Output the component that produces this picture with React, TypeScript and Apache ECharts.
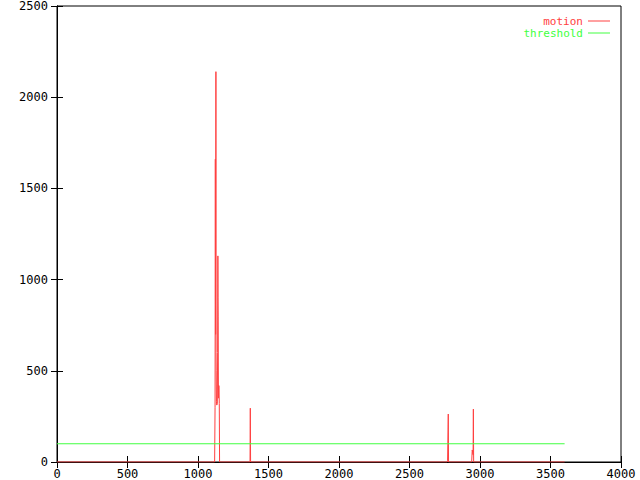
import React, { useEffect, useRef } from "react";
import * as echarts from "echarts";

// sampled motion values (seconds, level); samples not listed are zero
const motionSeconds = [
  0, 1118, 1120, 1121, 1123, 1124, 1125, 1127, 1128, 1129, 1131, 1133, 1135, 1137, 1139,
  1141, 1142, 1143, 1145, 1147, 1149, 1151, 1153, 1154,
  1369, 1371, 1373,
  2766, 2768, 2770, 2773, 2775, 2777,
  2941, 2943, 2945, 2947, 2951, 2953, 2955,
  3600,
];
const motionValues = [
  0, 0, 0, 300, 1660, 900, 700, 2140, 600, 500, 330, 312, 310, 320, 600,
  1130, 900, 800, 350, 420, 416, 320, 0, 0,
  0, 295, 0,
  0, 0, 6, 6, 263, 0,
  0, 0, 66, 66, 40, 290, 0,
  0,
];
const thresholdSeconds = [0, 3600];
const thresholdValues = [100, 100];
const xTicks = { min: 0, max: 4000, interval: 500 };
const yTicks = { min: 0, max: 2500, interval: 500 };

const RED = "#ff4040";
const GREEN = "#40ff40";
const FONT = "DejaVu Sans Mono";

export default function App() {
  const ref = useRef<HTMLDivElement>(null);
  useEffect(() => {
    if (!ref.current) return;
    const chart = echarts.init(ref.current, null, { renderer: "svg" });
    const axisCommon = {
      axisLine: { show: true, lineStyle: { color: "#000", width: 1 } },
      axisTick: { show: true, inside: true, length: 6, lineStyle: { color: "#000" } },
      splitLine: { show: false },
    };
    const fmt = (v: number) => String(v);
    chart.setOption({
      animation: false,
      backgroundColor: "#fff",
      grid: { left: 57, right: 19, top: 5, bottom: 18, show: true, borderColor: "#000", borderWidth: 1 },
      xAxis: [
        {
          type: "value",
          ...xTicks,
          ...axisCommon,
          axisLabel: { margin: 6, color: "#000", fontFamily: FONT, fontSize: 12, formatter: fmt },
        },
        {
          type: "value",
          position: "top",
          ...xTicks,
          ...axisCommon,
          axisLabel: { show: false },
        },
      ],
      yAxis: [
        {
          type: "value",
          ...yTicks,
          ...axisCommon,
          axisLabel: { margin: 9, color: "#000", fontFamily: FONT, fontSize: 12, formatter: fmt },
        },
        {
          type: "value",
          position: "right",
          ...yTicks,
          ...axisCommon,
          axisLabel: { show: false },
        },
      ],
      legend: {
        orient: "vertical",
        right: 30,
        top: 15,
        padding: 0,
        align: "right",
        icon: "rect",
        itemWidth: 22,
        itemHeight: 1,
        itemGap: 0,
        textStyle: { fontFamily: FONT, fontSize: 11, lineHeight: 12 },
        data: [
          { name: "motion", textStyle: { color: RED } },
          { name: "threshold", textStyle: { color: GREEN } },
        ],
      },
      series: [
        {
          name: "motion",
          type: "line",
          symbol: "none",
          color: RED,
          lineStyle: { color: RED, width: 1 },
          data: motionSeconds.map((s, i) => [s, motionValues[i]]),
        },
        {
          name: "threshold",
          type: "line",
          symbol: "none",
          color: GREEN,
          lineStyle: { color: GREEN, width: 1 },
          data: thresholdSeconds.map((s, i) => [s, thresholdValues[i]]),
        },
      ],
    });
    return () => chart.dispose();
  }, []);
  return <div ref={ref} style={{ width: 640, height: 480, position: "absolute", left: 0, top: 0 }} />;
}
